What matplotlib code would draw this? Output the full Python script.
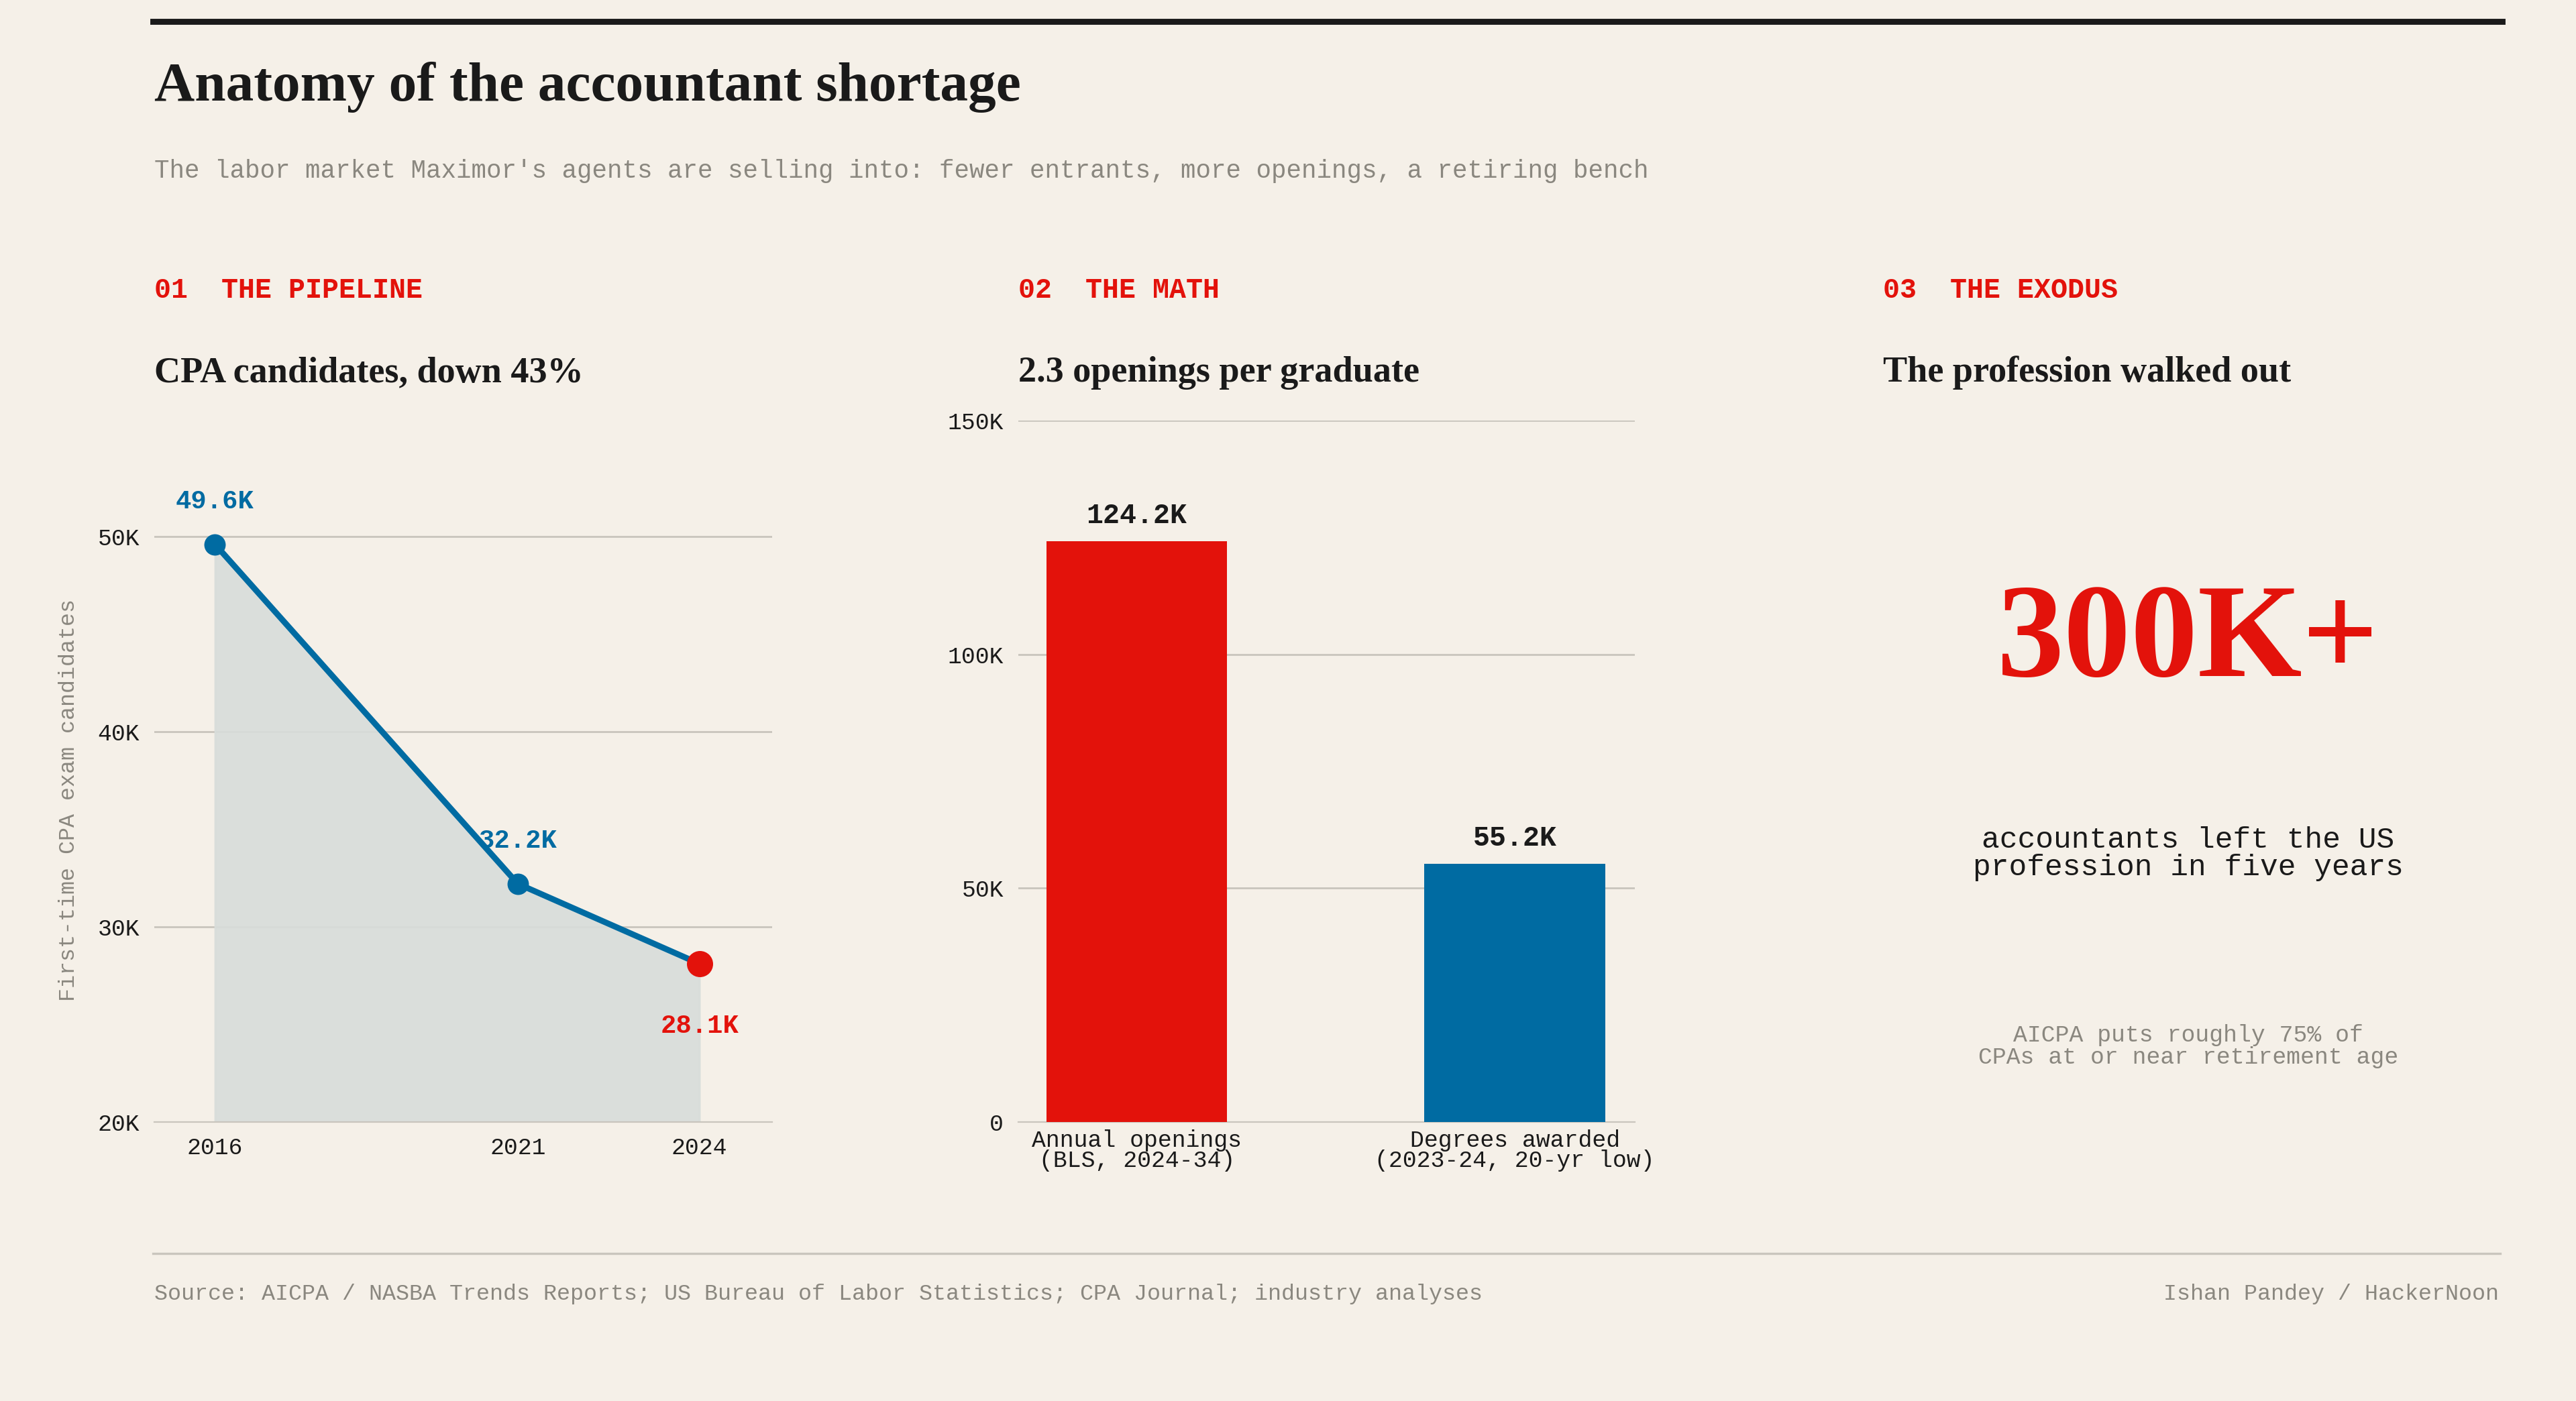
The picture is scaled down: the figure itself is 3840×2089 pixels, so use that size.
import matplotlib
matplotlib.use("Agg")
import matplotlib.pyplot as plt
from matplotlib.lines import Line2D

years = [2016, 2021, 2024]
candidates = [49.6, 32.2, 28.1]
cand_labels = ["49.6K", "32.2K", "28.1K"]
bar_cats = ["Annual openings\n(BLS, 2024-34)", "Degrees awarded\n(2023-24, 20-yr low)"]
bar_vals = [124.2, 55.2]
bar_labels = ["124.2K", "55.2K"]

BG = "#f5f0e8"; RED = "#e3120b"; BLUE = "#006ba2"; GRID = "#c9c5bd"; INK = "#1a1a1a"; GREY = "#8a877f"
SERIF = ["Liberation Serif", "DejaVu Serif"]
MONO = ["Liberation Mono", "DejaVu Sans Mono"]

W, H = 1568, 853
fig = plt.figure(figsize=(19.2, 10.445), dpi=200, facecolor=BG)

def fx(x): return x / W
def fy(y): return 1 - y / H

def rect(l, t, r, b): return [fx(l), fy(b), fx(r) - fx(l), fy(t) - fy(b)]

fig.add_artist(Line2D([fx(93), fx(1523)], [fy(13), fy(13)], color=INK, lw=3.2))
fig.add_artist(Line2D([fx(93), fx(1522)], [fy(763), fy(763)], color=GRID, lw=1.2))
fig.text(fx(94), fy(53), "Anatomy of the accountant shortage", family=SERIF, weight="bold", size=30, color=INK, va="center")
fig.text(fx(94), fy(104), "The labor market Maximor's agents are selling into: fewer entrants, more openings, a retiring bench",
         family=MONO, size=13.5, color=GREY, va="center")
for x, lab, head in [(94, "01  THE PIPELINE", "CPA candidates, down 43%"),
                     (620, "02  THE MATH", "2.3 openings per graduate"),
                     (1146, "03  THE EXODUS", "The profession walked out")]:
    fig.text(fx(x), fy(177), lab, family=MONO, weight="bold", size=15, color=RED, va="center")
    fig.text(fx(x), fy(227), head, family=SERIF, weight="bold", size=19.5, color=INK, va="center")
fig.text(fx(94), fy(788), "Source: AICPA / NASBA Trends Reports; US Bureau of Labor Statistics; CPA Journal; industry analyses",
         family=MONO, size=12, color=GREY, va="center")
fig.text(fx(1521), fy(788), "Ishan Pandey / HackerNoon", family=MONO, size=12, color=GREY, va="center", ha="right")

# Panel 1
ax = fig.add_axes(rect(94, 291, 470, 683))
ax.set_facecolor(BG)
ax.fill_between(years, candidates, 20, color="#d8ddda", alpha=0.9, zorder=1)
ax.plot(years, candidates, color=BLUE, lw=3.2, zorder=3)
ax.scatter(years[:2], candidates[:2], s=110, color=BLUE, zorder=4)
ax.scatter(years[2:], candidates[2:], s=170, color=RED, zorder=4)
ax.set_xlim(2015, 2025.2); ax.set_ylim(20, 53)
ax.set_yticks([20, 30, 40, 50]); ax.set_yticklabels(["20K", "30K", "40K", "50K"])
ax.set_xticks(years)
ax.grid(axis="y", color=GRID, lw=1); ax.set_axisbelow(True)
for s in ["top", "right", "left"]: ax.spines[s].set_visible(False)
ax.spines["bottom"].set_color(GRID)
ax.tick_params(length=0, labelsize=12.5, colors=INK, pad=8)
for t in ax.get_xticklabels() + ax.get_yticklabels(): t.set_family(MONO)
ax.set_ylabel("First-time CPA exam candidates", family=MONO, size=12, color=GREY, labelpad=10)
offs = [(0, 2.2), (0, 2.2), (0, -3.2)]
cols = [BLUE, BLUE, RED]
for x, y, l, (dx, dy), c in zip(years, candidates, cand_labels, offs, cols):
    ax.text(x + dx, y + dy, l, ha="center", va="center", family=MONO, weight="bold", size=14, color=c)

# Panel 2
ax2 = fig.add_axes(rect(620, 256, 995, 683))
ax2.set_facecolor(BG)
ax2.bar([0, 1], bar_vals, width=0.478, color=[RED, BLUE], zorder=3)
ax2.set_xlim(-0.313, 1.317); ax2.set_ylim(0, 150)
ax2.set_yticks([0, 50, 100, 150]); ax2.set_yticklabels(["0", "50K", "100K", "150K"])
ax2.set_xticks([0, 1]); ax2.set_xticklabels(bar_cats)
ax2.grid(axis="y", color=GRID, lw=1); ax2.set_axisbelow(True)
for s in ["top", "right", "left"]: ax2.spines[s].set_visible(False)
ax2.spines["bottom"].set_color(GRID)
ax2.tick_params(length=0, labelsize=12.5, colors=INK, pad=4)
ax2.tick_params(axis="y", pad=8)
for t in ax2.get_xticklabels() + ax2.get_yticklabels(): t.set_family(MONO)
for t in ax2.get_xticklabels(): t.set_linespacing(0.9)
for i, (v, l) in enumerate(zip(bar_vals, bar_labels)):
    ax2.text(i, v + 2.5, l, ha="center", va="bottom", family=MONO, weight="bold", size=15, color=INK)

# Panel 3
cx = fx(1332)
fig.text(cx, fy(392), "300K+", family=SERIF, weight="bold", size=72, color=RED, ha="center", va="center")
fig.text(cx, fy(520), "accountants left the US\nprofession in five years", family=MONO, size=16, color=INK,
         ha="center", va="center", linespacing=1.0)
fig.text(cx, fy(637), "AICPA puts roughly 75% of\nCPAs at or near retirement age", family=MONO, size=12.5, color=GREY,
         ha="center", va="center", linespacing=1.0)

fig.savefig("out.png", dpi=200, facecolor=BG)
